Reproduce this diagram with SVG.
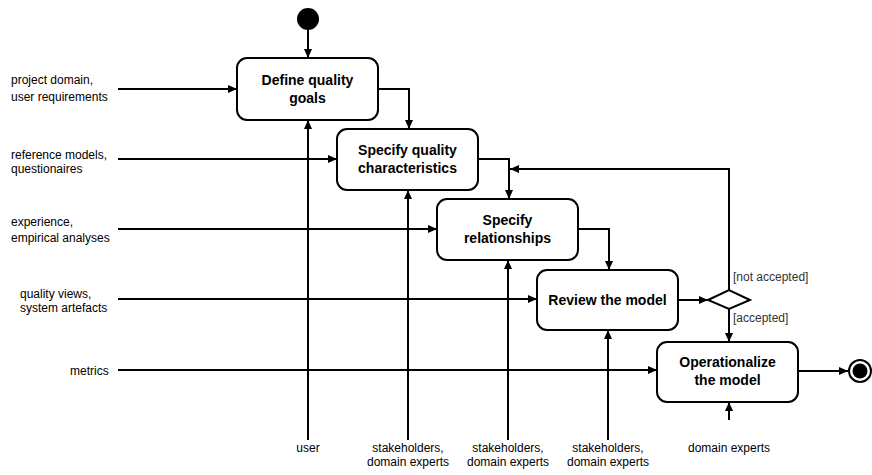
<svg xmlns="http://www.w3.org/2000/svg" width="872" height="475" viewBox="0 0 872 475">
<defs>
<marker id="ah" markerWidth="10" markerHeight="10" refX="9" refY="5" orient="auto" markerUnits="userSpaceOnUse">
<path d="M0,1 L9,5 L0,9 Z" fill="#000"/>
</marker>
<style>
.box{fill:#fff;stroke:#000;stroke-width:2}
.bt{font-family:"Liberation Sans",Arial,sans-serif;font-size:14px;font-weight:bold;text-anchor:middle;fill:#000}
.lt{font-family:"Liberation Sans",Arial,sans-serif;font-size:12px;fill:#000}
.ct{font-family:"Liberation Sans",Arial,sans-serif;font-size:12px;fill:#000;text-anchor:middle}
.gt{font-family:"Liberation Sans",Arial,sans-serif;font-size:12px;fill:#333}
.c{fill:none;stroke:#000;stroke-width:2}
</style>
</defs>
<rect width="872" height="475" fill="#fff"/>
<g id="connectors">
<path class="c" d="M308,30 V58" marker-end="url(#ah)"/>
<path class="c" d="M378,89 H409 V129" marker-end="url(#ah)"/>
<path class="c" d="M478,159 H509 V199" marker-end="url(#ah)"/>
<path class="c" d="M578,229 H609 V270" marker-end="url(#ah)"/>
<path class="c" d="M678,300 H708" marker-end="url(#ah)"/>
<path class="c" d="M729,290 V169 H510" marker-end="url(#ah)"/>
<path class="c" d="M729,309 V342" marker-end="url(#ah)"/>
<path class="c" d="M798,371 H848" marker-end="url(#ah)"/>
<path class="c" d="M118,89 H237" marker-end="url(#ah)"/>
<path class="c" d="M118,159 H337" marker-end="url(#ah)"/>
<path class="c" d="M118,229 H437" marker-end="url(#ah)"/>
<path class="c" d="M118,299 H537" marker-end="url(#ah)"/>
<path class="c" d="M118,370 H657" marker-end="url(#ah)"/>
<path class="c" d="M308,440 V120" marker-end="url(#ah)"/>
<path class="c" d="M408,440 V190" marker-end="url(#ah)"/>
<path class="c" d="M508,440 V260" marker-end="url(#ah)"/>
<path class="c" d="M608,440 V330" marker-end="url(#ah)"/>
<path class="c" d="M729,420 V402" marker-end="url(#ah)"/>
<text class="gt" x="733" y="281">[not accepted]</text>
<text class="gt" x="733" y="322">[accepted]</text>
</g>
<g id="start"><circle cx="308" cy="19" r="11" fill="#000"/></g>
<g id="define"><rect class="box" x="237" y="58" width="141" height="62" rx="10"/><text class="bt" x="307.500" y="85">Define quality</text><text class="bt" x="307.500" y="103">goals</text></g>
<g id="specchar"><rect class="box" x="337" y="129" width="141" height="61" rx="10"/><text class="bt" x="407.500" y="155">Specify quality</text><text class="bt" x="407.500" y="173">characteristics</text></g>
<g id="specrel"><rect class="box" x="437" y="199" width="141" height="61" rx="10"/><text class="bt" x="507.500" y="225">Specify</text><text class="bt" x="507.500" y="243">relationships</text></g>
<g id="review"><rect class="box" x="537" y="270" width="141" height="60" rx="10"/><text class="bt" x="607.500" y="305">Review the model</text></g>
<g id="decision"><path d="M708,300 L729,290 L750,300 L729,309 Z" fill="#fff" stroke="#000" stroke-width="2"/></g>
<g id="oper"><rect class="box" x="657" y="342" width="141" height="60" rx="10"/><text class="bt" x="727.500" y="367">Operationalize</text><text class="bt" x="727.500" y="385">the model</text></g>
<g id="end"><circle cx="860" cy="371" r="11" fill="#fff" stroke="#000" stroke-width="2"/><circle cx="860" cy="371" r="7.500" fill="#000"/></g>
<g id="inputs">
<text class="lt" x="11" y="84">project domain,</text>
<text class="lt" x="11" y="101">user requirements</text>
<text class="lt" x="11" y="159">reference models,</text>
<text class="lt" x="11" y="173">questionaires</text>
<text class="lt" x="11" y="226">experience,</text>
<text class="lt" x="11" y="242">empirical analyses</text>
<text class="lt" x="20" y="298">quality views,</text>
<text class="lt" x="20" y="312">system artefacts</text>
<text class="lt" x="70" y="375">metrics</text>
<text class="ct" x="308" y="452">user</text>
<text class="ct" x="408" y="452">stakeholders,</text>
<text class="ct" x="408" y="466">domain experts</text>
<text class="ct" x="508" y="452">stakeholders,</text>
<text class="ct" x="508" y="466">domain experts</text>
<text class="ct" x="608" y="452">stakeholders,</text>
<text class="ct" x="608" y="466">domain experts</text>
<text class="ct" x="729" y="452">domain experts</text>
</g>
</svg>
